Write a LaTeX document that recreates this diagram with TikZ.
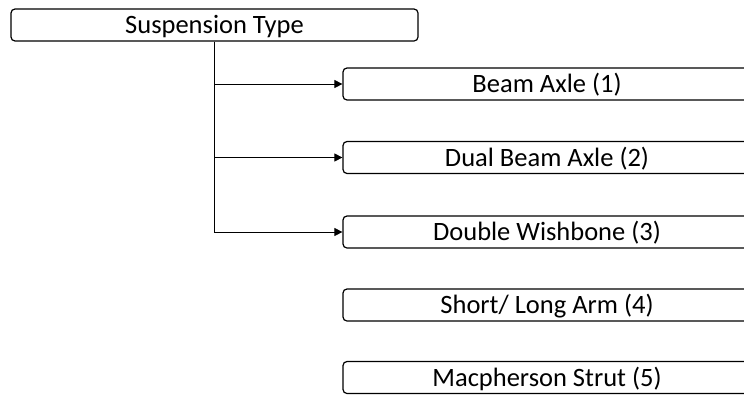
\documentclass[tikz,border=0pt]{standalone}
\usepackage{fontspec}
\setmainfont{Carlito}
\usetikzlibrary{arrows.meta}
\begin{document}
\begin{tikzpicture}[x=1pt,y=-1pt,
  box/.style={draw=black, line width=1.2pt, rounded corners=4pt, minimum height=32pt,
    inner sep=0pt, text height=17pt, text depth=0pt,
    font=\fontsize{26.5}{30}\selectfont},
  topbox/.style={box, minimum width=407pt},
  subbox/.style={box, minimum width=408pt},
  conn/.style={draw=black, line width=0.8pt, -{Triangle[length=8pt,width=8pt]}}
]
\useasboundingbox (0,0) rectangle (744,394);
\clip (0,0) rectangle (744,394);
\node[topbox] (top) at (214.5,25) {Suspension Type};
\node[subbox] (b1) at (547,84) {Beam Axle (1)};
\node[subbox] (b2) at (547,157.5) {Dual Beam Axle (2)};
\node[subbox] (b3) at (547,232) {Double Wishbone (3)};
\node[subbox] (b4) at (547,305) {Short/ Long Arm (4)};
\node[subbox] (b5) at (547,377.5) {Macpherson Strut (5)};
\coordinate (t) at (top.south);
\draw[conn] (t) |- (b1.west);
\draw[conn] (t) |- (b2.west);
\draw[conn] (t) |- (b3.west);
\end{tikzpicture}
\end{document}
